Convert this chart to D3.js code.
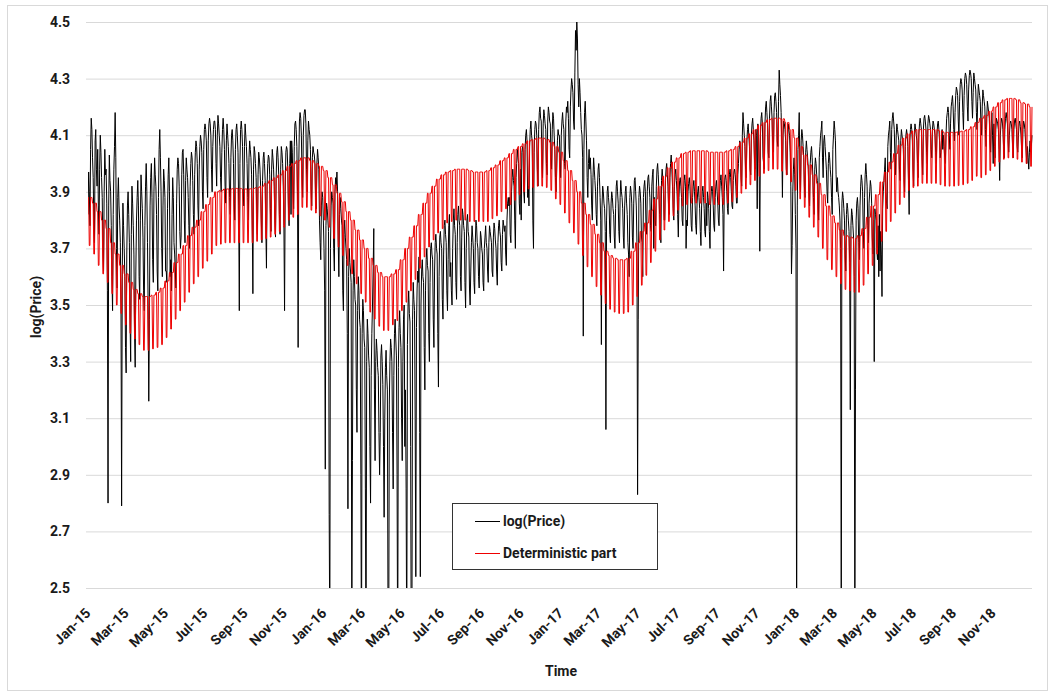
<!DOCTYPE html>
<html>
<head>
<meta charset="utf-8">
<script src="https://cdn.jsdelivr.net/npm/d3@7"></script>
<style>
  body { margin: 0; background: #fff; }
  svg { display: block; }
  text { font-family: Roboto, "Open Sans", sans-serif; font-weight: 700; fill: #1a1a1a; }
</style>
</head>
<body>
<svg id="chart" width="1055" height="693"></svg>
<script>
// Daily log prices, one array per calendar year (index 0 = 1 January).
const logPrice2015 = [
  3.82,3.97,3.90,3.78,4.05,4.16,4.12, 4.02,3.95,3.80,3.72,4.08,4.12,3.98, 3.92,4.05,3.85,3.75,3.98,4.10,4.04,
  3.95,3.88,3.70,3.62,3.90,4.05,3.96, 3.98,3.86,3.55,2.80,3.85,4.03,3.94, 3.90,3.78,3.60,3.48,3.82,3.98,4.06,
  4.18,4.02,3.70,3.56,3.88,3.95,3.85, 3.80,3.72,3.50,2.79,3.62,3.86,3.78, 3.70,3.60,3.35,3.26,3.68,3.85,3.90,
  3.82,3.72,3.45,3.30,3.75,3.92,3.86, 3.78,3.68,3.40,3.28,3.62,3.80,3.88, 3.94,3.85,3.60,3.52,3.80,3.96,3.90,
  3.84,3.74,3.55,3.48,3.78,3.92,4.00, 3.90,3.72,3.50,3.16,3.45,3.85,3.95, 4.00,3.88,3.66,3.58,3.90,4.02,3.96,
  3.92,3.82,3.62,3.55,3.88,4.05,4.12, 4.02,3.90,3.70,3.60,3.85,3.98,3.94, 3.88,3.62,3.62,3.58,3.84,3.96,4.02,
  3.90,3.60,3.66,3.55,3.82,3.95,3.88, 3.72,3.68,3.62,3.56,3.86,3.98,4.02, 4.00,3.92,3.76,3.70,3.74,3.96,4.04,
  4.05,3.96,3.80,3.72,3.94,4.02,3.98, 3.95,3.88,3.78,3.70,3.92,4.00,4.04, 4.02,3.94,3.82,3.75,3.96,4.04,4.08,
  4.06,4.00,3.85,3.78,3.98,4.06,4.10, 4.08,4.04,3.90,3.84,4.05,4.12,4.14, 4.12,4.08,3.95,3.88,4.08,4.14,4.16,
  4.14,4.10,3.98,3.90,4.06,4.12,4.15, 4.15,4.12,4.00,3.92,4.10,4.17,4.14, 4.10,4.06,3.95,3.90,4.04,4.12,4.16,
  4.12,4.05,3.92,3.86,4.08,4.14,4.10, 4.06,4.00,3.88,3.82,4.02,4.10,4.12, 4.08,4.00,3.86,3.80,4.05,4.12,4.14,
  4.10,4.04,3.85,3.48,4.00,4.12,4.15, 4.12,4.06,3.90,3.85,4.06,4.14,4.10, 4.06,4.00,3.88,3.80,4.02,4.08,4.05,
  4.02,3.96,3.80,3.54,3.98,4.06,4.04, 4.00,3.95,3.82,3.75,3.96,4.04,4.02, 3.98,3.92,3.80,3.72,3.94,4.02,4.04,
  4.00,3.94,3.78,3.63,3.92,4.00,4.03, 4.02,3.96,3.84,3.76,3.98,4.05,4.02, 3.98,3.92,3.80,3.74,3.95,4.04,4.06,
  4.02,3.96,3.82,3.75,3.98,4.06,4.04, 4.00,3.92,3.78,3.48,3.90,4.04,4.06, 4.05,3.98,3.85,3.78,4.00,4.08,3.82,
  4.08,4.04,3.92,3.84,4.06,4.14,4.15, 4.12,4.06,3.90,3.35,4.00,4.15,4.18, 4.16,4.10,3.96,3.88,4.10,4.17,4.19,
  4.19,4.14,3.98,3.90,4.08,4.15,4.12, 4.10,4.05,3.92,3.85,4.02,4.06,4.04, 4.03,4.00,3.88,3.84,4.00,4.05,4.02,
  3.98,3.80,3.72,3.66,3.85,3.90,3.88, 3.80
];
const logPrice2016 = [
  3.70,3.55,2.92,3.78,3.86,3.84,3.80, 3.76,2.76,2.30,3.70,3.85,3.90,3.88, 3.86,3.70,3.62,3.90,3.95,3.92,3.97,
  3.90,3.72,3.60,3.82,3.88,3.84,3.80, 3.78,3.55,3.48,3.75,3.80,3.74,3.70, 3.66,3.40,2.78,3.60,3.70,3.65,3.62,
  3.58,2.30,2.95,3.55,3.66,3.60,3.52, 3.50,3.20,3.05,3.48,3.60,3.55,3.45, 3.42,2.90,2.20,3.40,3.52,3.48,3.38,
  3.35,2.85,2.25,3.30,3.45,3.40,3.32, 3.28,3.00,2.80,3.25,3.40,3.50,3.62, 3.77,3.20,2.95,3.30,3.38,3.34,3.28,
  3.25,3.05,2.90,3.05,3.32,3.36,3.30, 3.22,3.00,2.75,3.10,3.28,3.34,3.25, 3.20,2.40,2.20,3.15,3.30,3.38,3.35,
  3.30,3.05,2.85,3.25,3.40,3.45,3.38, 3.32,2.90,2.20,3.28,3.42,3.48,3.40, 3.35,3.10,2.95,3.30,3.45,3.50,3.00,
  3.20,2.85,2.25,3.36,3.50,3.55,3.47, 3.44,3.00,2.20,2.35,3.45,3.58,3.52, 3.48,3.10,2.54,3.42,3.56,3.62,3.58,
  3.67,3.05,2.54,3.50,3.62,3.66,3.60, 3.58,3.35,3.20,3.55,3.66,3.70,3.64, 3.62,3.40,3.30,3.58,3.70,3.72,3.68,
  3.66,3.45,3.35,3.62,3.72,3.75,3.70, 3.68,3.40,3.21,3.60,3.74,3.76,3.72, 3.70,3.52,3.45,3.68,3.78,3.80,3.75,
  3.72,3.55,3.48,3.66,3.78,3.82,3.60, 3.65,3.55,3.50,3.70,3.80,3.84,3.78, 3.75,3.58,3.52,3.72,3.82,3.85,3.80,
  3.78,3.60,3.55,3.74,3.84,3.82,3.78, 3.76,3.58,3.49,3.70,3.80,3.82,3.76, 3.74,3.56,3.50,3.62,3.72,3.78,3.74,
  3.70,3.58,3.54,3.72,3.80,3.78,3.72, 3.70,3.60,3.56,3.68,3.76,3.74,3.70, 3.68,3.58,3.55,3.70,3.74,3.78,3.72,
  3.70,3.62,3.58,3.72,3.78,3.76,3.74, 3.72,3.62,3.60,3.74,3.79,3.77,3.73, 3.70,3.62,3.57,3.72,3.78,3.80,3.76,
  3.74,3.65,3.62,3.75,3.80,3.78,3.76, 3.78,3.68,3.64,3.80,3.86,3.88,3.85, 3.88,3.75,3.72,3.90,3.95,3.98,3.94,
  3.92,3.80,3.70,3.95,4.00,4.05,4.02, 4.00,3.86,3.82,3.98,3.80,4.04,4.06, 4.04,3.90,3.86,4.05,4.10,4.12,4.08,
  3.88,3.92,3.85,4.06,4.12,4.15,4.10, 4.08,3.80,3.70,4.04,4.12,4.15,4.14, 4.10,3.98,3.92,4.12,4.18,4.20,4.16,
  4.15,4.02,3.95,4.14,4.19,4.17,4.14, 4.12,4.00,3.96,4.15,4.20,4.18,4.15, 4.14,4.02,3.98,4.12,4.18,4.16,4.10,
  4.05,3.95,3.90,3.98,4.08,4.12,4.10, 4.10,4.02
];
const logPrice2017 = [
  3.95,4.10,4.15,4.18,4.14,4.12,4.00, 3.98,4.15,4.20,4.18,4.22,4.16,4.05, 4.02,4.20,4.26,4.30,4.28,4.25,4.15,
  4.12,4.32,4.47,4.40,4.50,4.44,4.28, 4.20,4.30,4.25,4.18,4.12,4.10,4.02, 3.39,4.05,4.18,4.22,4.15,4.08,3.95,
  3.88,4.00,4.05,3.98,4.02,3.96,3.85, 3.80,3.95,4.02,3.98,3.94,3.90,3.82, 3.78,3.92,3.98,4.00,3.95,3.88,3.80,
  3.36,3.85,3.92,3.90,3.86,3.84,3.76, 3.06,3.80,3.90,3.92,3.88,3.85,3.75, 3.72,3.86,3.90,3.88,3.84,3.82,3.74,
  3.70,3.84,3.92,3.94,3.90,3.86,3.76, 3.72,3.88,3.94,3.90,3.88,3.84,3.74, 3.70,3.85,3.90,3.92,3.86,3.82,3.72,
  3.68,3.60,3.88,3.92,3.90,3.86,3.74, 3.70,3.86,3.94,3.95,3.90,3.85,3.72, 2.83,3.45,3.88,3.92,3.90,3.86,3.74,
  3.72,3.60,3.88,3.92,3.94,3.90,3.78, 3.75,3.90,3.95,3.96,3.92,3.88,3.78, 3.76,3.92,3.96,3.98,3.70,3.88,3.80,
  3.78,3.92,3.98,4.00,3.96,3.90,3.82, 3.78,3.72,3.94,3.98,3.95,3.90,3.80, 3.80,3.94,3.98,4.00,3.96,3.92,3.84,
  3.82,3.95,4.00,4.03,3.98,3.92,3.84, 3.80,3.92,3.96,3.98,3.94,3.90,3.82, 3.74,3.88,3.94,3.95,3.92,3.88,3.80,
  3.78,3.90,3.94,3.96,3.92,3.70,3.80, 3.78,3.90,3.93,3.95,3.92,3.86,3.78, 3.76,3.88,3.92,3.94,3.90,3.85,3.78,
  3.75,3.86,3.90,3.92,3.88,3.84,3.76, 3.71,3.85,3.90,3.92,3.88,3.84,3.76, 3.74,3.86,3.78,3.90,3.88,3.84,3.76,
  3.70,3.86,3.90,3.92,3.90,3.85,3.78, 3.76,3.88,3.92,3.94,3.90,3.86,3.80, 3.78,3.90,3.94,3.96,3.92,3.88,3.82,
  3.62,3.90,3.95,3.96,3.94,3.90,3.84, 3.82,3.92,3.96,3.98,3.95,3.90,3.85, 3.84,3.94,3.97,3.98,3.96,3.92,3.86,
  3.86,3.96,4.00,4.05,4.08,4.04,3.95, 3.92,4.10,4.18,4.14,4.10,4.06,3.98, 3.95,4.08,4.12,4.14,4.10,4.06,3.98,
  3.96,4.10,4.14,4.16,4.12,4.08,4.00, 3.98,4.12,4.10,3.84,4.14,4.10,4.00, 3.69,4.10,4.16,4.18,4.14,4.02,4.00,
  3.98,4.14,4.20,4.22,4.18,4.14,4.04, 4.02,4.16,4.22,4.24,4.20,4.16,4.06, 4.04,4.18,4.24,4.25,4.22,4.18,4.08,
  4.06,4.22,4.33,4.28,4.24,4.18,4.06, 3.88,4.10,4.15,4.14,4.12,4.08,3.98, 3.96,4.08,4.14,4.12,4.10,4.04,3.92,
  3.61,3.71,3.90,3.98,4.02,3.96,3.82, 3.70
];
const logPrice2018 = [
  2.20,3.85,4.05,4.10,4.18,3.98,3.90, 4.08,4.12,4.10,4.06,4.02,3.92,3.88, 4.04,4.08,4.05,4.02,3.98,3.90,3.85,
  4.00,4.04,4.06,4.02,3.96,3.88,3.82, 3.98,4.02,4.00,3.96,3.94,3.86,3.80, 4.02,4.06,4.10,4.12,4.15,4.02,3.95,
  4.08,4.10,4.06,4.02,3.98,3.90,3.86, 4.00,4.04,4.02,3.98,3.95,3.88,3.82, 4.05,4.10,4.15,4.12,4.08,3.96,3.90,
  3.95,3.90,3.88,3.85,3.80,3.70,2.30, 3.86,3.90,3.88,3.84,3.80,3.68,3.62, 3.82,3.86,3.84,3.80,3.76,3.65,3.13,
  3.78,3.84,3.82,3.78,3.74,3.60,2.30, 3.20,3.80,3.86,3.88,3.84,3.72,3.66, 3.85,3.92,3.96,3.94,3.90,3.76,3.70,
  3.88,3.96,4.00,3.96,3.92,3.78,3.72, 3.86,3.90,3.94,3.92,3.86,3.74,3.68, 3.80,3.30,3.84,3.82,3.80,3.70,3.66,
  3.78,3.60,3.82,3.62,3.76,3.68,3.53, 3.84,3.90,3.94,3.98,4.02,3.90,3.86, 3.84,4.06,4.10,4.12,4.15,4.04,3.98,
  4.12,4.16,4.18,4.15,4.12,4.02,3.96, 4.10,4.14,4.12,4.10,4.08,3.98,3.94, 4.08,4.12,4.10,4.08,4.05,3.95,3.90,
  4.06,4.10,4.12,4.10,4.06,3.94,3.82, 4.08,4.12,4.14,4.12,4.08,3.98,3.92, 4.10,4.14,4.12,4.10,4.08,4.00,3.95,
  4.10,4.14,4.16,4.14,4.12,4.02,3.96, 4.12,4.16,4.17,4.15,4.12,4.04,4.00, 4.14,4.17,4.16,4.14,4.12,4.05,4.02,
  4.12,4.15,4.14,4.12,4.10,4.04,4.00, 4.10,4.14,4.15,4.12,4.08,4.02,4.04, 4.08,4.12,4.05,4.10,4.06,4.02,4.00,
  4.10,4.16,4.18,4.20,4.18,4.10,4.05, 4.14,4.20,4.22,4.24,4.20,4.12,4.08, 4.18,4.24,4.27,4.26,4.24,4.15,4.10,
  4.22,4.28,4.30,4.29,4.26,4.18,4.12, 4.24,4.30,4.32,4.31,4.28,4.20,4.15, 4.26,4.31,4.33,4.32,4.30,4.22,4.16,
  4.25,4.32,4.30,4.28,4.26,4.18,4.12, 4.22,4.28,4.26,4.24,4.22,4.14,4.10, 4.20,4.26,4.24,4.22,4.20,4.12,4.06,
  4.16,4.22,4.20,4.18,4.16,4.08,4.04, 4.14,4.18,4.10,4.00,4.14,4.06,4.02, 4.12,4.16,4.15,4.14,4.12,4.05,3.94,
  4.10,4.14,4.16,4.15,4.12,4.06,4.02, 4.12,4.16,4.18,4.16,4.14,4.08,4.04, 4.10,4.14,4.15,4.14,4.12,4.06,4.02,
  4.12,4.15,4.16,4.14,4.12,4.06,4.04, 4.10,4.14,4.15,4.13,4.10,4.05,4.02, 4.12,4.15,4.14,4.12,4.08,4.04,4.00,
  4.06,4.02,3.98,4.04,4.08,4.04,4.06, 4.10
];

// Deterministic part: weekly working-day level and weekend level,
// one value per 7-day block counted from 1 January 2015.
const detWeekday = [
  3.88,3.86,3.83,3.80,3.77,3.72,3.68,3.64,3.61,3.58,3.555,3.54,3.53,3.53,3.535,3.545,3.56,3.585,3.615,3.65,
  3.68,3.71,3.745,3.775,3.80,3.83,3.855,3.88,3.90,3.905,3.91,3.91,3.912,3.912,3.91,3.91,3.912,3.915,3.92,3.93,
  3.94,3.95,3.96,3.975,3.99,4.00,4.01,4.02,4.02,4.01,4.00,3.99,3.975,3.95,3.925,3.895,3.865,3.83,3.80,3.765,
  3.73,3.70,3.665,3.64,3.615,3.60,3.60,3.61,3.625,3.66,3.70,3.74,3.78,3.82,3.86,3.895,3.92,3.945,3.96,3.97,
  3.975,3.98,3.98,3.98,3.975,3.97,3.97,3.97,3.975,3.985,3.995,4.01,4.02,4.035,4.05,4.06,4.07,4.08,4.085,4.09,
  4.09,4.085,4.075,4.06,4.04,4.01,3.975,3.94,3.90,3.86,3.82,3.785,3.75,3.72,3.69,3.675,3.665,3.66,3.66,3.665,
  3.69,3.72,3.76,3.79,3.835,3.875,3.92,3.955,3.985,4.005,4.02,4.035,4.04,4.045,4.045,4.045,4.045,4.04,4.04,4.04,
  4.04,4.045,4.05,4.06,4.075,4.09,4.105,4.12,4.135,4.145,4.155,4.16,4.16,4.158,4.145,4.12,4.09,4.06,4.03,3.995,
  3.96,3.93,3.89,3.85,3.815,3.79,3.765,3.745,3.74,3.735,3.745,3.77,3.81,3.85,3.89,3.935,3.97,4.005,4.035,4.065,
  4.09,4.105,4.115,4.12,4.12,4.12,4.12,4.12,4.115,4.11,4.11,4.11,4.112,4.115,4.12,4.13,4.145,4.16,4.17,4.185,
  4.20,4.215,4.225,4.23,4.23,4.225,4.215,4.21,4.20
];
const detWeekend = [
  3.71,3.68,3.64,3.61,3.58,3.54,3.50,3.47,3.43,3.40,3.38,3.36,3.34,3.34,3.345,3.35,3.36,3.385,3.415,3.45,
  3.48,3.51,3.545,3.575,3.60,3.63,3.655,3.68,3.71,3.715,3.72,3.72,3.72,3.72,3.72,3.72,3.72,3.725,3.73,3.735,
  3.74,3.75,3.76,3.775,3.80,3.81,3.82,3.845,3.845,3.835,3.825,3.815,3.80,3.775,3.735,3.705,3.675,3.64,3.61,3.575,
  3.54,3.51,3.475,3.45,3.425,3.41,3.41,3.43,3.445,3.48,3.51,3.55,3.59,3.63,3.67,3.705,3.73,3.755,3.77,3.79,
  3.795,3.80,3.80,3.80,3.795,3.795,3.795,3.795,3.795,3.805,3.815,3.83,3.84,3.855,3.87,3.89,3.90,3.91,3.915,3.92,
  3.92,3.915,3.905,3.875,3.855,3.825,3.79,3.755,3.715,3.675,3.635,3.60,3.565,3.535,3.505,3.485,3.475,3.47,3.47,3.475,
  3.50,3.53,3.57,3.605,3.65,3.69,3.73,3.765,3.795,3.815,3.835,3.85,3.855,3.86,3.86,3.86,3.86,3.855,3.855,3.855,
  3.855,3.86,3.865,3.88,3.895,3.91,3.925,3.94,3.955,3.965,3.975,3.98,3.98,3.973,3.96,3.935,3.905,3.875,3.845,3.81,
  3.775,3.74,3.70,3.66,3.625,3.60,3.575,3.555,3.55,3.545,3.545,3.57,3.61,3.64,3.68,3.725,3.76,3.795,3.825,3.855,
  3.88,3.905,3.915,3.92,3.93,3.93,3.93,3.93,3.925,3.92,3.92,3.92,3.922,3.925,3.93,3.94,3.955,3.95,3.96,3.975,
  3.99,4.005,4.015,4.02,4.02,4.015,4.005,4.00,3.99
];

const yTickValues = [2.5, 2.7, 2.9, 3.1, 3.3, 3.5, 3.7, 3.9, 4.1, 4.3, 4.5];
const xTickLabels = [
  "Jan-15","Mar-15","May-15","Jul-15","Sep-15","Nov-15",
  "Jan-16","Mar-16","May-16","Jul-16","Sep-16","Nov-16",
  "Jan-17","Mar-17","May-17","Jul-17","Sep-17","Nov-17",
  "Jan-18","Mar-18","May-18","Jul-18","Sep-18","Nov-18"
];
const seriesNames = ["log(Price)", "Deterministic part"];
const seriesColors = ["#000000", "#ee0000"];

// ---- build series ----
const priceByYear = [[2015, logPrice2015], [2016, logPrice2016], [2017, logPrice2017], [2018, logPrice2018]];
const priceSeries = priceByYear.flatMap(([yr, vals]) =>
  vals.map((v, i) => ({ date: new Date(yr, 0, 1 + i), value: v })));

const firstDay = new Date(2015, 0, 1);
const detSeries = d3.timeDay.range(firstDay, new Date(2019, 0, 1)).map((date, d) => {
  const w = Math.min(Math.floor(d / 7), detWeekday.length - 1);
  const dow = date.getDay();
  const weekend = dow === 0 || dow === 6;
  return { date, value: weekend ? detWeekend[w] : detWeekday[w] };
});

// ---- layout ----
const FONT = "Roboto, 'Open Sans', sans-serif";
const svg = d3.select("#chart");
const plot = { left: 88, right: 1032, top: 22, bottom: 588 };

const x = d3.scaleTime()
  .domain([new Date(2015, 0, 1), new Date(2018, 11, 31)])
  .range([plot.left, plot.right]);
const y = d3.scaleLinear().domain([2.5, 4.5]).range([plot.bottom, plot.top]);

// chart area frame
svg.append("rect")
  .attr("x", 7.5).attr("y", 5.5).attr("width", 1040).attr("height", 685)
  .attr("fill", "#fff").attr("stroke", "#d9d9d9");

// horizontal gridlines + value labels
const yAxis = d3.axisLeft(y).tickValues(yTickValues)
  .tickSize(-(plot.right - plot.left + 2)).tickPadding(16).tickFormat(d3.format(".1f"));
const gy = svg.append("g").attr("transform", `translate(${plot.left - 2},0)`).call(yAxis);
gy.select(".domain").remove();
gy.selectAll(".tick line").attr("stroke", "#d9d9d9");
gy.selectAll(".tick text").attr("font-size", 14).attr("fill", "#1a1a1a")
  .style("font-family", FONT).style("font-weight", 700);

// time labels (every two months), rotated
const xTickDates = xTickLabels.map((_, i) => new Date(2015, 2 * i, 1));
const xAxis = d3.axisBottom(x).tickValues(xTickDates).tickSize(0)
  .tickFormat((d, i) => xTickLabels[i]);
const gx = svg.append("g").attr("transform", `translate(0,${plot.bottom})`).call(xAxis);
gx.select(".domain").remove();
gx.selectAll(".tick text")
  .attr("font-size", 14).attr("fill", "#1a1a1a")
  .style("font-family", FONT).style("font-weight", 700)
  .attr("text-anchor", "end").attr("dy", null).attr("y", null)
  .attr("transform", "translate(3,26) rotate(-45)");

// series lines
svg.append("clipPath").attr("id", "plot-clip")
  .append("rect")
  .attr("x", plot.left).attr("y", plot.top)
  .attr("width", plot.right - plot.left + 1).attr("height", plot.bottom - plot.top);

const line = d3.line().x(d => x(d.date)).y(d => y(d.value));
const lines = svg.append("g").attr("clip-path", "url(#plot-clip)");
[priceSeries, detSeries].forEach((series, k) => {
  lines.append("path").datum(series)
    .attr("d", line)
    .attr("fill", "none")
    .attr("stroke", seriesColors[k])
    .attr("stroke-width", 1)
    .attr("stroke-linejoin", "round");
});

// axis titles
svg.append("text").attr("x", 561).attr("y", 676).attr("text-anchor", "middle")
  .attr("font-size", 14).text("Time");
svg.append("text").attr("transform", "translate(41,307) rotate(-90)")
  .attr("text-anchor", "middle").attr("font-size", 14).text("log(Price)");

// legend
const legend = svg.append("g");
legend.append("rect")
  .attr("x", 452.5).attr("y", 503.5).attr("width", 205).attr("height", 66)
  .attr("fill", "#fff").attr("stroke", "#333");
seriesNames.forEach((name, k) => {
  const ly = 521.5 + k * 32;
  legend.append("line").attr("x1", 475).attr("x2", 500).attr("y1", ly).attr("y2", ly)
    .attr("stroke", seriesColors[k]).attr("stroke-width", 1);
  legend.append("text").attr("x", 503).attr("y", ly).attr("dy", "0.35em")
    .attr("font-size", 14).text(name);
});
</script>
</body>
</html>
